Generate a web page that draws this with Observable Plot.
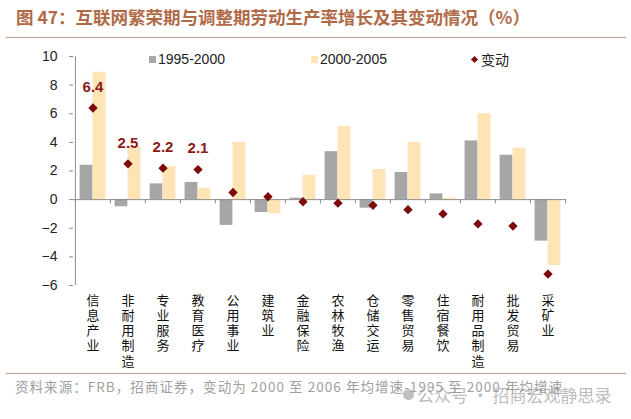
<!DOCTYPE html>
<html><head><meta charset="utf-8">
<script src="https://cdn.jsdelivr.net/npm/d3@7"></script>
<script src="https://cdn.jsdelivr.net/npm/@observablehq/plot@0.6"></script>
<style>
body{margin:0;background:#fff;}
#wrap{position:relative;width:631px;height:419px;overflow:hidden;font-family:"Liberation Sans",Arial,sans-serif;}
.abs{position:absolute;white-space:nowrap;}
</style></head><body>
<div id="wrap">
  <div class="abs" id="title" style="left:16px;top:6px;font-family:'Noto Sans CJK SC';font-weight:bold;font-size:17.5px;color:#b06a48;line-height:22px;">图 47：互联网繁荣期与调整期劳动生产率增长及其变动情况（%）</div>
  <div class="abs" style="left:6px;top:37px;width:620px;height:1px;background:#c49c84;"></div>
  <div id="chart" class="abs" style="left:0;top:40px;"></div>
  <div id="legend"></div>
  <div class="abs" style="left:6px;top:373px;width:620px;height:1px;background:#c49c84;"></div>
  <div class="abs" id="src" style="left:15px;top:377px;font-family:'Noto Sans CJK SC';font-size:13.5px;letter-spacing:1.05px;color:#a0a0a0;line-height:18px;">资料来源：FRB，招商证券，变动为 2000 至 2006 年均增速-1995 至 2000 年均增速</div>
  <div class="abs" style="left:403px;top:389px;width:11px;height:11px;border-radius:6px;background:rgba(150,150,150,0.6);"></div>
  <div class="abs" style="left:417px;top:384px;font-family:'Noto Sans CJK SC';font-size:17px;color:rgba(150,150,150,0.65);line-height:22px;">公众号 · 招商宏观静思录</div>
</div>
<script>
const categories = ["信息产业","非耐用制造","专业服务","教育医疗","公用事业","建筑业","金融保险","农林牧渔","仓储交运","零售贸易","住宿餐饮","耐用品制造","批发贸易","采矿业"];
const v1995 = [2.4, -0.5, 1.1, 1.2, -1.8, -0.9, 0.1, 3.35, -0.6, 1.9, 0.4, 4.1, 3.1, -2.9];
const v2000 = [8.9, 3.7, 2.3, 0.8, 4.0, -1.0, 1.7, 5.1, 2.1, 4.0, 0.1, 6.0, 3.6, -4.6];
const change = [6.4, 2.5, 2.2, 2.1, 0.5, 0.2, -0.15, -0.25, -0.4, -0.7, -1.0, -1.7, -1.85, -5.2];
const labelled = ["信息产业","非耐用制造","专业服务","教育医疗"];
const yTicks = [-6,-4,-2,0,2,4,6,8,10];
const seriesNames = ["1995-2000","2000-2005","变动"];

const GRAY = "#a6a6a6", YEL = "#ffe4b5", RED = "#7c0a0a";
const data = categories.map((c,i)=>({cat:c, a:v1995[i], b:v2000[i], d:change[i]}));

const W = 631, H = 330, ML = 73, MR = 65;
const band = (W - ML - MR) / categories.length;
const barW = 13;
const side = band/2 - barW;

const chart = Plot.plot({
  width: W, height: H,
  marginLeft: ML, marginRight: MR, marginTop: 16, marginBottom: 85,
  style: {fontFamily: "'Liberation Sans', Arial, sans-serif", background: "transparent"},
  x: {type: "band", domain: categories, padding: 0, label: null},
  y: {domain: [-6, 10], label: null},
  marks: [
    Plot.barY(data, {x: "cat", y: "a", fill: GRAY, insetLeft: side, insetRight: band/2}),
    Plot.barY(data, {x: "cat", y: "b", fill: YEL, insetLeft: band/2, insetRight: side}),
    Plot.ruleY([0], {stroke: "#8c8c8c", strokeWidth: 1}),
    Plot.ruleX(categories, {x: d=>d, dx: -band/2, y1: 0, y2: -0.3, stroke: "#8c8c8c"}),
    Plot.ruleX([categories[categories.length-1]], {x: d=>d, dx: band/2, y1: 0, y2: -0.3, stroke: "#8c8c8c"}),
    Plot.ruleX([categories[0]], {x: d=>d, dx: -band/2, y1: -6, y2: 10, stroke: "#8c8c8c"}),
    Plot.dot(data, {x: "cat", y: "d", symbol: "diamond2", r: 4.2, fill: RED, stroke: "none"}),
    Plot.text(data.filter(d=>labelled.includes(d.cat)), {x: "cat", y: "d", text: d=>d.d.toFixed(1), dy: -21, fill: "#8b1a1a", fontWeight: "bold", fontSize: 15}),
    Plot.axisY({ticks: yTicks, tickSize: 4, tickPadding: 12, fontSize: 14, stroke: "#8c8c8c", color: "#222", label: null}),
    Plot.axisX({tickSize: 0, tickPadding: 9, fontSize: 13, lineHeight: 1.16, tickFormat: d => [...d].join("\n"), fontFamily: "'Noto Sans CJK SC'", color: "#111", label: null})
  ]
});
document.getElementById("chart").appendChild(chart);

const leg = document.getElementById("legend");
const items = [
  {name: seriesNames[0], color: GRAY, x: 149, tx: 158, shape: "sq"},
  {name: seriesNames[1], color: YEL, x: 311, tx: 320, shape: "sq"},
  {name: seriesNames[2], color: RED, x: 471, tx: 481, shape: "dm"}
];
for (const it of items) {
  const m = document.createElement("div");
  m.className = "abs";
  if (it.shape === "sq") {
    m.style.cssText = `left:${it.x}px;top:56px;width:7px;height:7px;background:${it.color};`;
  } else {
    m.style.cssText = `left:${it.x+1}px;top:57px;width:5px;height:5px;background:${it.color};transform:rotate(45deg);`;
  }
  leg.appendChild(m);
  const t = document.createElement("div");
  t.className = "abs";
  t.style.cssText = `left:${it.tx}px;top:50px;font-size:14px;line-height:18px;color:#222;font-family:${it.shape==="dm"?"'Noto Sans CJK SC'":"'Liberation Sans',Arial,sans-serif"};`;
  t.textContent = it.name;
  leg.appendChild(t);
}
</script>
</body></html>
